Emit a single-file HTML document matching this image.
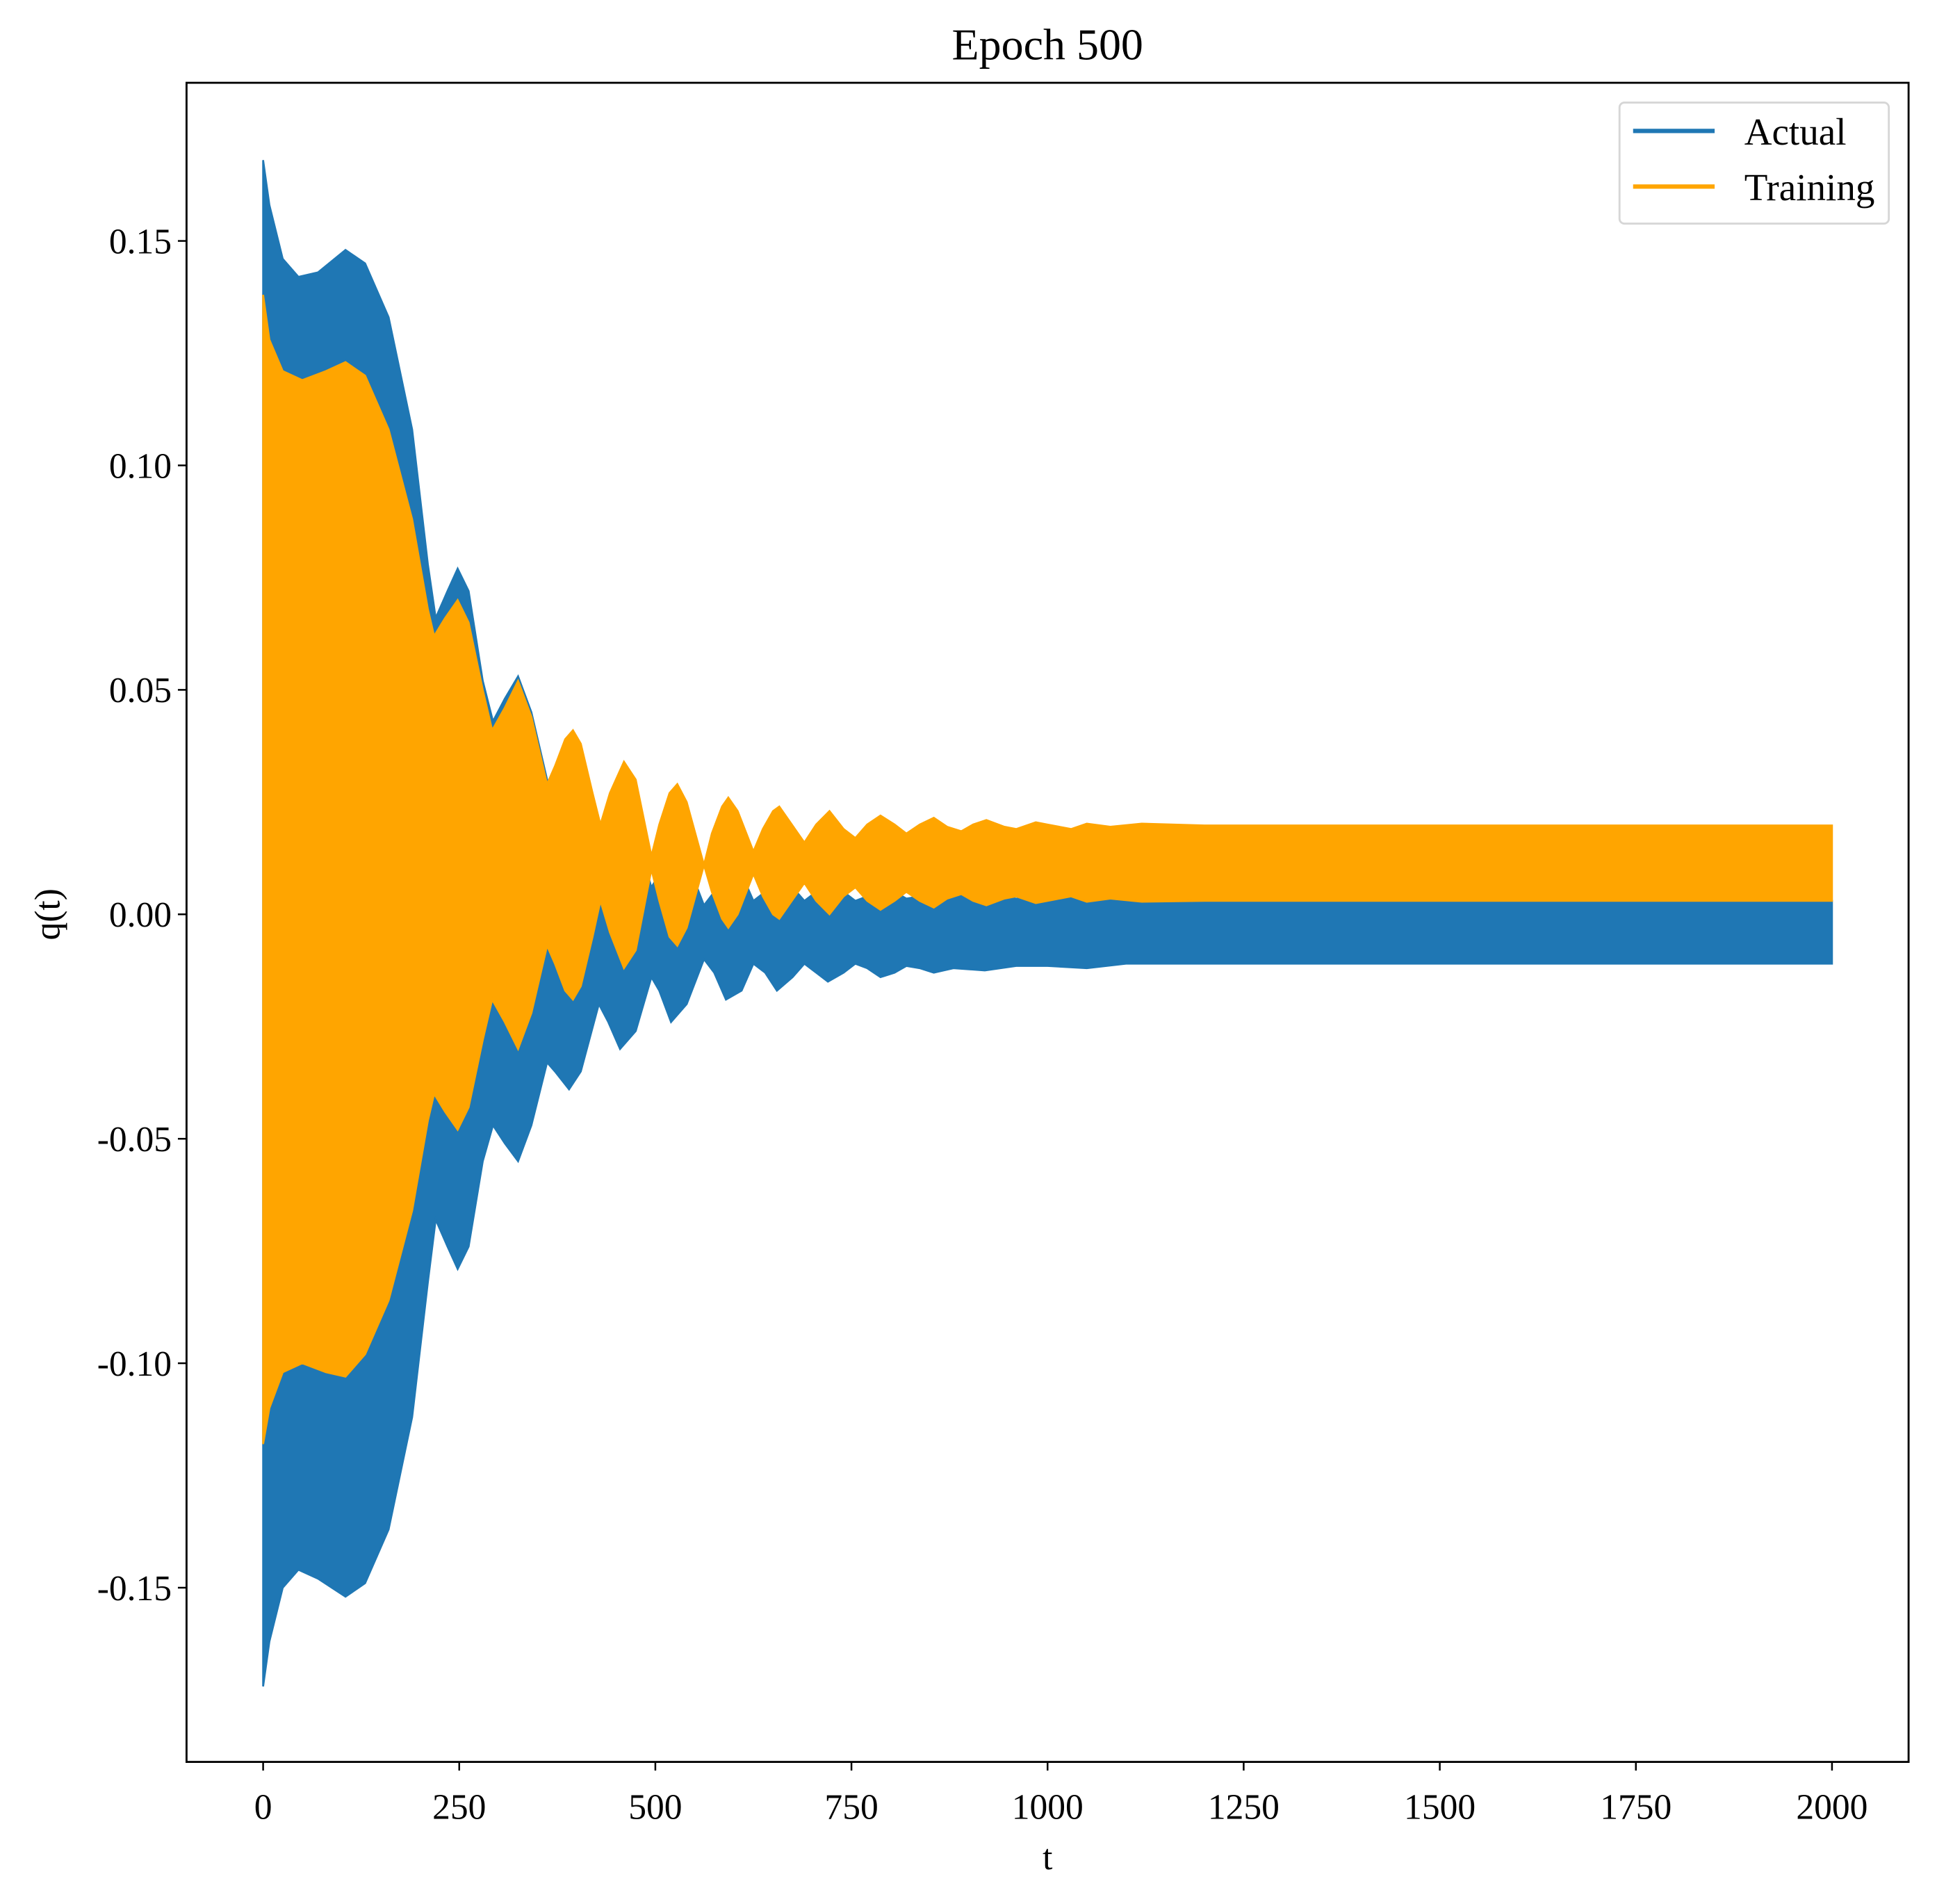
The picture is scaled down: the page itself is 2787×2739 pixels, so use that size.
<!DOCTYPE html>
<html><head><meta charset="utf-8"><style>html,body{margin:0;padding:0;background:#fff}svg{display:block}</style></head>
<body>
<svg id="chart" xmlns="http://www.w3.org/2000/svg" width="2787" height="2739" viewBox="0 0 1568 1541" font-family="'Liberation Serif', serif">
<rect width="1568" height="1541" fill="#fff"/>
<text x="848" y="48" font-size="36" text-anchor="middle">Epoch 500</text>
<g id="plot"></g>
<rect x="151" y="67" width="1394" height="1359" fill="none" stroke="#000" stroke-width="1.6"/>
<g id="xt"></g>
<g id="yt"></g>
<text x="848" y="1513" font-size="29" text-anchor="middle">t</text>
<text x="48" y="740" font-size="29" text-anchor="middle" transform="rotate(-90 48 740)">q(t)</text>
<g>
<rect x="1311" y="83" width="218" height="98" rx="4" fill="#fff" stroke="#d6d6d6" stroke-width="1.6"/>
<g>
<line x1="1322" y1="106" x2="1388" y2="106" stroke="#1f77b4" stroke-width="3.5"/>
<text x="1412" y="117" font-size="31">Actual</text></g>
<g>
<line x1="1322" y1="151" x2="1388" y2="151" stroke="#ffa500" stroke-width="3.5"/>
<text x="1412" y="162" font-size="31">Training</text></g>
</g>
</svg>
<script>
const xTicks=[0,250,500,750,1000,1250,1500,1750,2000];
const yTicks=[0.15,0.10,0.05,0.00,-0.05,-0.10,-0.15];
const yTickLabels=["0.15","0.10","0.05","0.00","-0.05","-0.10","-0.15"];
const actualUpperT=[0,8,25,45,70,105,130,160,190,210,220,235,248,262,280,293,308,325,342,362,372,390,405,428,440,455,475,495,505,520,540,562,575,590,610,625,640,655,675,690,705,720,740,755,770,787,805,820,837,855,880,920,960,1000,1050,1100,2000];
const actualUpperV=[0.168,0.158,0.146,0.142,0.143,0.148,0.145,0.133,0.108,0.078,0.066,0.072,0.077,0.072,0.052,0.043,0.048,0.053,0.045,0.030,0.027,0.031,0.027,0.012,0.016,0.022,0.018,0.006,0.009,0.016,0.012,0.002,0.005,0.011,0.009,0.003,0.005,0.009,0.006,0.003,0.005,0.007,0.005,0.003,0.004,0.006,0.005,0.0035,0.004,0.005,0.004,0.0045,0.0035,0.0035,0.004,0.003,0.003];
const actualLowerT=actualUpperT;
const actualLowerV=[-0.172,-0.162,-0.150,-0.146,-0.148,-0.152,-0.149,-0.137,-0.112,-0.082,-0.068,-0.074,-0.079,-0.074,-0.055,-0.047,-0.051,-0.055,-0.047,-0.033,-0.035,-0.039,-0.035,-0.020,-0.024,-0.030,-0.026,-0.014,-0.017,-0.024,-0.020,-0.010,-0.013,-0.019,-0.017,-0.011,-0.013,-0.017,-0.014,-0.011,-0.013,-0.015,-0.013,-0.011,-0.012,-0.014,-0.013,-0.0115,-0.012,-0.013,-0.012,-0.0125,-0.0115,-0.0115,-0.012,-0.011,-0.011];
const trainUpperT=[0,8,25,50,80,105,130,160,190,210,218,232,248,262,280,292,308,325,342,362,372,385,395,405,420,430,442,460,475,495,505,518,528,540,562,572,585,593,605,625,637,650,658,670,690,705,722,740,755,770,787,805,820,837,855,872,890,905,922,945,960,985,1000,1030,1050,1080,1120,1200,2000];
const trainUpperV=[0.138,0.128,0.121,0.119,0.121,0.123,0.120,0.108,0.088,0.068,0.062,0.066,0.070,0.065,0.050,0.041,0.046,0.052,0.044,0.029,0.033,0.039,0.041,0.038,0.027,0.020,0.027,0.034,0.030,0.013,0.020,0.027,0.029,0.025,0.011,0.018,0.024,0.026,0.023,0.014,0.019,0.023,0.024,0.021,0.016,0.020,0.023,0.019,0.017,0.020,0.022,0.020,0.018,0.020,0.0215,0.0195,0.0185,0.020,0.021,0.0195,0.019,0.0205,0.020,0.019,0.0202,0.0195,0.0202,0.0198,0.0198];
const trainLowerT=trainUpperT;
const trainLowerV=[-0.118,-0.110,-0.102,-0.100,-0.102,-0.103,-0.098,-0.086,-0.066,-0.046,-0.040,-0.044,-0.048,-0.043,-0.028,-0.019,-0.024,-0.030,-0.022,-0.007,-0.011,-0.017,-0.019,-0.016,-0.005,0.003,-0.004,-0.012,-0.008,0.010,0.003,-0.005,-0.007,-0.003,0.011,0.005,-0.001,-0.003,0.000,0.009,0.004,0.000,-0.001,0.002,0.007,0.003,0.000,0.004,0.006,0.003,0.001,0.003,0.005,0.003,0.0015,0.0035,0.0045,0.003,0.002,0.0035,0.004,0.0025,0.003,0.004,0.0028,0.0035,0.0028,0.003,0.003];
const X=t=>213+t*(1483-213)/2000;
const Y=v=>740-v*(740-195)/0.15;
const NS="http://www.w3.org/2000/svg";
const plot=document.getElementById('plot');
function band(ut,uv,lt,lv,color,name){
  const pts=[];
  for(let i=0;i<ut.length;i++)pts.push(X(ut[i]).toFixed(2)+','+Y(uv[i]).toFixed(2));
  for(let i=lt.length-1;i>=0;i--)pts.push(X(lt[i]).toFixed(2)+','+Y(lv[i]).toFixed(2));
  const p=document.createElementNS(NS,'polygon');
  p.setAttribute('points',pts.join(' '));
  p.setAttribute('fill',color);p.setAttribute('stroke',color);p.setAttribute('stroke-width','1.5');
  
  
  plot.appendChild(p);
}
band(actualUpperT,actualUpperV,actualLowerT,actualLowerV,'#1f77b4','actual-series');
band(trainUpperT,trainUpperV,trainLowerT,trainLowerV,'#ffa500','training-series');
const xt=document.getElementById('xt');
xTicks.forEach(t=>{
  const l=document.createElementNS(NS,'line');
  l.setAttribute('x1',X(t));l.setAttribute('x2',X(t));l.setAttribute('y1',1426);l.setAttribute('y2',1433);l.setAttribute('stroke','#000');l.setAttribute('stroke-width','1.4');
  
  
  xt.appendChild(l);
  const s=document.createElementNS(NS,'text');
  s.setAttribute('x',X(t));s.setAttribute('y',1472);s.setAttribute('font-size','29');s.setAttribute('text-anchor','middle');
  s.textContent=String(t);
  
  
  xt.appendChild(s);
});
const yt=document.getElementById('yt');
yTicks.forEach((v,i)=>{
  const l=document.createElementNS(NS,'line');
  l.setAttribute('x1',144);l.setAttribute('x2',151);l.setAttribute('y1',Y(v));l.setAttribute('y2',Y(v));l.setAttribute('stroke','#000');l.setAttribute('stroke-width','1.4');
  
  
  yt.appendChild(l);
  const s=document.createElementNS(NS,'text');
  s.setAttribute('x',139);s.setAttribute('y',Y(v)+10);s.setAttribute('font-size','29');s.setAttribute('text-anchor','end');
  s.textContent=yTickLabels[i];
  
  
  yt.appendChild(s);
});
</script>
</body></html>
